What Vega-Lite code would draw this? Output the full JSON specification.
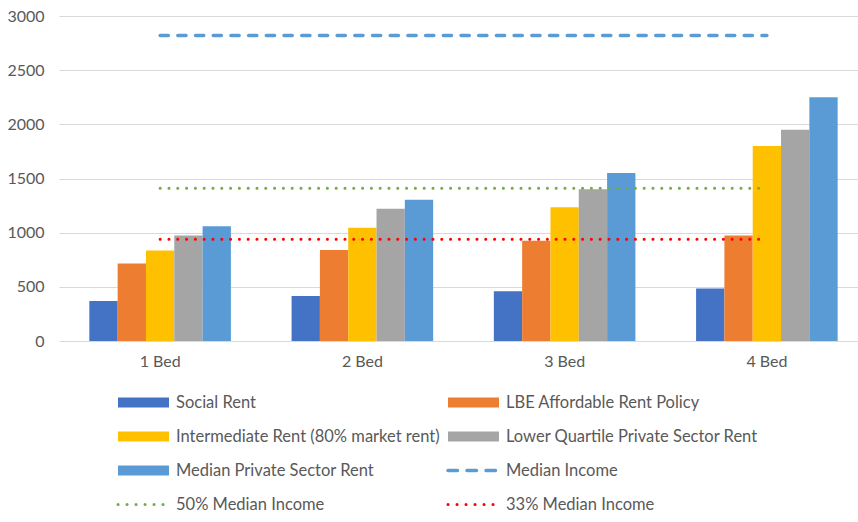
{
  "$schema": "https://vega.github.io/schema/vega-lite/v6.json",
  "width": 799,
  "height": 325,
  "autosize": {"type": "none"},
  "padding": {"left": 59, "top": 16, "right": 0, "bottom": 181},
  "background": "white",
  "config": {
    "view": {"stroke": null},
    "font": "Lato",
    "axis": {"labelFont": "Lato", "labelColor": "#595959", "labelFontSize": 16}
  },
  "data": {
    "values": [
      {"bed": "1 Bed", "series": "Social Rent", "kind": "bar", "value": 370},
      {"bed": "2 Bed", "series": "Social Rent", "kind": "bar", "value": 415},
      {"bed": "3 Bed", "series": "Social Rent", "kind": "bar", "value": 460},
      {"bed": "4 Bed", "series": "Social Rent", "kind": "bar", "value": 485},
      {"bed": "1 Bed", "series": "LBE Affordable Rent Policy", "kind": "bar", "value": 715},
      {"bed": "2 Bed", "series": "LBE Affordable Rent Policy", "kind": "bar", "value": 840},
      {"bed": "3 Bed", "series": "LBE Affordable Rent Policy", "kind": "bar", "value": 925},
      {"bed": "4 Bed", "series": "LBE Affordable Rent Policy", "kind": "bar", "value": 975},
      {"bed": "1 Bed", "series": "Intermediate Rent (80% market rent)", "kind": "bar", "value": 835},
      {"bed": "2 Bed", "series": "Intermediate Rent (80% market rent)", "kind": "bar", "value": 1045},
      {"bed": "3 Bed", "series": "Intermediate Rent (80% market rent)", "kind": "bar", "value": 1235},
      {"bed": "4 Bed", "series": "Intermediate Rent (80% market rent)", "kind": "bar", "value": 1800},
      {"bed": "1 Bed", "series": "Lower Quartile Private Sector Rent", "kind": "bar", "value": 975},
      {"bed": "2 Bed", "series": "Lower Quartile Private Sector Rent", "kind": "bar", "value": 1220},
      {"bed": "3 Bed", "series": "Lower Quartile Private Sector Rent", "kind": "bar", "value": 1400},
      {"bed": "4 Bed", "series": "Lower Quartile Private Sector Rent", "kind": "bar", "value": 1950},
      {"bed": "1 Bed", "series": "Median Private Sector Rent", "kind": "bar", "value": 1060},
      {"bed": "2 Bed", "series": "Median Private Sector Rent", "kind": "bar", "value": 1305},
      {"bed": "3 Bed", "series": "Median Private Sector Rent", "kind": "bar", "value": 1550},
      {"bed": "4 Bed", "series": "Median Private Sector Rent", "kind": "bar", "value": 2250},
      {"bed": "1 Bed", "series": "Median Income", "kind": "dash", "value": 2820},
      {"bed": "2 Bed", "series": "Median Income", "kind": "dash", "value": 2820},
      {"bed": "3 Bed", "series": "Median Income", "kind": "dash", "value": 2820},
      {"bed": "4 Bed", "series": "Median Income", "kind": "dash", "value": 2820},
      {"bed": "1 Bed", "series": "50% Median Income", "kind": "dot", "value": 1410},
      {"bed": "2 Bed", "series": "50% Median Income", "kind": "dot", "value": 1410},
      {"bed": "3 Bed", "series": "50% Median Income", "kind": "dot", "value": 1410},
      {"bed": "4 Bed", "series": "50% Median Income", "kind": "dot", "value": 1410},
      {"bed": "1 Bed", "series": "33% Median Income", "kind": "dot", "value": 940},
      {"bed": "2 Bed", "series": "33% Median Income", "kind": "dot", "value": 940},
      {"bed": "3 Bed", "series": "33% Median Income", "kind": "dot", "value": 940},
      {"bed": "4 Bed", "series": "33% Median Income", "kind": "dot", "value": 940}
    ]
  },
  "encoding": {
    "x": {
      "field": "bed",
      "type": "nominal",
      "scale": {"range": [0, 809], "paddingInner": 0.3, "paddingOuter": 0.15},
      "axis": {"title": null, "labelAngle": 0, "domain": false, "ticks": false, "labelPadding": 12, "grid": false}
    },
    "y": {
      "field": "value",
      "type": "quantitative",
      "scale": {"domain": [0, 3000], "nice": false},
      "axis": {"title": null, "format": "d", "values": [0, 500, 1000, 1500, 2000, 2500, 3000], "domain": false, "ticks": false, "labelPadding": 15, "grid": true, "gridColor": "#d9d9d9", "gridWidth": 1}
    },
    "color": {
      "field": "series",
      "type": "nominal",
      "scale": {
        "domain": ["Social Rent", "LBE Affordable Rent Policy", "Intermediate Rent (80% market rent)", "Lower Quartile Private Sector Rent", "Median Private Sector Rent", "Median Income", "50% Median Income", "33% Median Income"],
        "range": ["#4472C4", "#ED7D31", "#FFC000", "#A5A5A5", "#5B9BD5", "#5B9BD5", "#70AD47", "#FF0000"]
      },
      "legend": {
        "orient": "none",
        "direction": "horizontal",
        "legendX": 59,
        "legendY": 361,
        "columns": 2,
        "title": null,
        "symbolSize": 2601,
        "labelFont": "Lato",
        "labelFontSize": 16.5,
        "labelColor": "#595959",
        "labelOffset": 7,
        "labelLimit": 0,
        "columnPadding": 1,
        "rowPadding": 0,
        "symbolOpacity": 1,
        "encode": {
          "symbols": {
            "update": {
              "shape": {"signal": "(indexof(['Median Income','50% Median Income','33% Median Income'], datum.value) >= 0 ? 'stroke' : 'M-1,-0.2H1V0.2H-1Z')"},
              "fill": {"signal": "(indexof(['Median Income','50% Median Income','33% Median Income'], datum.value) >= 0 ? 'transparent' : scale('color', datum.value))"},
              "stroke": {"signal": "scale('color', datum.value)"},
              "strokeWidth": {"signal": "(datum.value === 'Median Income' ? 3.5 : (indexof(['50% Median Income','33% Median Income'], datum.value) >= 0 ? 3 : 0))"},
              "strokeDash": {"signal": "(datum.value === 'Median Income' ? [9.5, 9.5] : (indexof(['50% Median Income','33% Median Income'], datum.value) >= 0 ? [0.1, 8.9] : [1, 0]))"},
              "strokeCap": {"value": "round"},
              "opacity": {"value": 1}
            }
          }
        }
      }
    }
  },
  "layer": [
    {
      "transform": [{"filter": "datum.kind === 'bar'"}],
      "mark": {"type": "bar"},
      "encoding": {
        "xOffset": {
          "field": "series",
          "type": "nominal",
          "sort": ["Social Rent", "LBE Affordable Rent Policy", "Intermediate Rent (80% market rent)", "Lower Quartile Private Sector Rent", "Median Private Sector Rent"],
          "scale": {"paddingInner": 0, "paddingOuter": 0}
        }
      }
    },
    {
      "transform": [{"filter": "datum.series === 'Median Income'"}],
      "mark": {"type": "line", "strokeWidth": 3.5, "strokeDash": [8.2, 9.5], "strokeCap": "round"},
      "encoding": {}
    },
    {
      "transform": [{"filter": "datum.series === '50% Median Income'"}],
      "mark": {"type": "line", "strokeWidth": 3, "strokeDash": [0.1, 8.7], "strokeCap": "round"},
      "encoding": {}
    },
    {
      "transform": [{"filter": "datum.series === '33% Median Income'"}],
      "mark": {"type": "line", "strokeWidth": 3, "strokeDash": [0.1, 8.7], "strokeCap": "round"},
      "encoding": {}
    }
  ]
}
